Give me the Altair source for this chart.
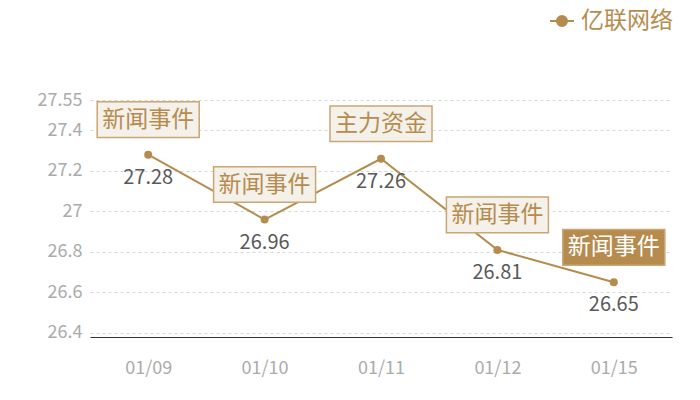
import altair as alt
import pandas as pd

dates = ["01/09", "01/10", "01/11", "01/12", "01/15"]
prices = [27.28, 26.96, 27.26, 26.81, 26.65]
events = ["新闻事件", "新闻事件", "主力资金", "新闻事件", "新闻事件"]
highlight = [False, False, False, False, True]
series_name = "亿联网络"
y_ticks = [26.4, 26.6, 26.8, 27, 27.2, 27.4, 27.55]
y_domain = [26.38, 27.55]

df = pd.DataFrame({"date": dates, "price": prices, "event": events,
                   "hl": highlight, "series": [series_name] * len(dates)})

FONT = "Noto Sans CJK SC"
TAN = "#b58c4e"
LIGHT = "#f4f0ea"
BORDER = "#c9a673"
AXIS_LABEL = "#ababab"

x = alt.X("date:N", sort=dates, title=None,
          scale=alt.Scale(type="point", padding=0.5),
          axis=alt.Axis(grid=False, ticks=False, domainColor="#333333", domainWidth=1,
                        labelPadding=22, labelColor=AXIS_LABEL, labelFontSize=18,
                        labelFont=FONT, labelAngle=0))
y = alt.Y("price:Q", title=None,
          scale=alt.Scale(domain=y_domain, nice=False, zero=False),
          axis=alt.Axis(values=y_ticks, format=".4~g", grid=True, gridColor="#d6d6d6",
                        gridDash=[3, 3], domain=False, ticks=False, labelPadding=8,
                        labelColor=AXIS_LABEL, labelFontSize=18, labelFont=FONT))

base = alt.Chart(df)

legend_path = "M-1,0L1,0M-0.42,0A0.42,0.42 0 1,1 0.42,0A0.42,0.42 0 1,1 -0.42,0Z"

line = base.mark_line(strokeWidth=2).encode(
    x=x, y=y,
    color=alt.Color("series:N", title=None,
                    scale=alt.Scale(range=[TAN]),
                    legend=alt.Legend(orient="none", legendX=457, legendY=-94, padding=2,
                                      symbolType=legend_path, symbolSize=576,
                                      symbolStrokeWidth=2, symbolFillColor=TAN,
                                      symbolStrokeColor=TAN, labelFontSize=23,
                                      labelColor=TAN, labelFont=FONT, labelOffset=6,
                                      labelLimit=300)),
)

points = base.mark_circle(size=64, opacity=1, color=TAN).encode(x=x, y=y)

values = base.mark_text(dy=23, fontSize=20, color="#595959", font=FONT).encode(
    x=x, y=y, text=alt.Text("price:Q", format=".2f"))

box_path = "M-1,-0.35L1,-0.35L1,0.35L-1,0.35Z"
boxes = base.mark_point(shape=box_path, size=10404, filled=True, opacity=1,
                        stroke=BORDER, strokeWidth=1.5, yOffset=-35).encode(
    x=x, y=y,
    fill=alt.condition("datum.hl", alt.value(TAN), alt.value(LIGHT)),
)

box_text = base.mark_text(dy=-35, fontSize=23, font=FONT, baseline="middle").encode(
    x=x, y=y, text="event:N",
    color=alt.condition("datum.hl", alt.value("#ffffff"), alt.value(TAN)),
)

chart = alt.layer(line, points, values, boxes, box_text).properties(
    width=582, height=237,
    padding={"left": 82, "top": 92, "right": 20, "bottom": 50},
    autosize="none",
).configure_view(stroke=None)

chart.save("out.html", embed_options={"renderer": "svg", "actions": False})
